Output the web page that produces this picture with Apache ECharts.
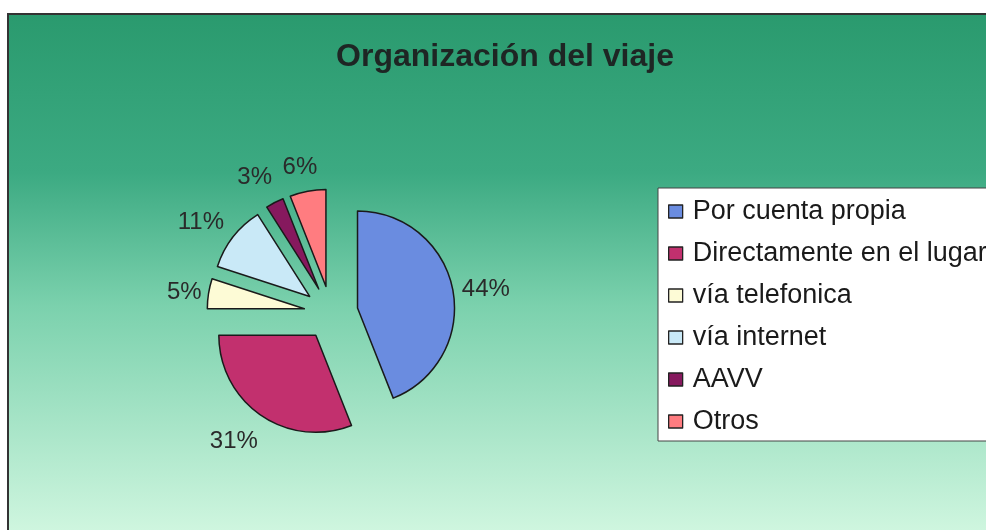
<!DOCTYPE html>
<html>
<head>
<meta charset="utf-8">
<script src="https://cdn.jsdelivr.net/npm/echarts@6/dist/echarts.min.js"></script>
<style>
  html, body { margin: 0; padding: 0; background: #ffffff; }
  #chart { width: 986px; height: 530px; }
</style>
</head>
<body>
<div id="chart"></div>
<script>
// slices, clockwise from 12 o'clock
var categories = ['Por cuenta propia', 'Directamente en el lugar', 'vía telefonica', 'vía internet', 'AAVV', 'Otros'];
var shares = [44, 31, 5, 11, 3, 6];
var sliceColors = ['#6a8ce0', '#c2306e', '#fdfbd6', '#c9e9f7', '#86195e', '#ff7c80'];
// label placement (label lines are hidden): radial gap, then horizontal nudge
var labelGaps = [0, 31, 11, 24, 28, 24];
var labelNudges = [4, -19, -9, -15, -15, -19];

drawChart();

function drawChart() {
    var myChart = echarts.init(document.getElementById('chart'));

    var pieData = categories.map(function (name, i) {
        return {
            name: name,
            value: shares[i],
            selected: true,
            itemStyle: { color: sliceColors[i] },
            labelLine: { length: labelGaps[i], length2: labelNudges[i] }
        };
    });

    var option = {
        animation: false,
        graphic: [{
            type: 'rect',
            z: -10,
            shape: { x: 8, y: 14, width: 1000, height: 530 },
            style: {
                fill: new echarts.graphic.LinearGradient(0, 0, 0, 1, [
                    { offset: 0, color: '#2a9a6e' },
                    { offset: 0.3, color: '#3caa82' },
                    { offset: 0.55, color: '#7bd1ad' },
                    { offset: 1, color: '#d4f8e2' }
                ]),
                stroke: '#333333',
                lineWidth: 2
            }
        }],
        title: {
            text: 'Organización del viaje',
            left: 500,
            textAlign: 'center',
            top: 36,
            textStyle: {
                fontFamily: 'Liberation Sans, Arial, sans-serif',
                fontSize: 32,
                fontWeight: 'bold',
                color: '#1e2624'
            }
        },
        legend: {
            orient: 'vertical',
            left: 658,
            top: 188,
            padding: [10, 30, 6, 10],
            backgroundColor: '#ffffff',
            borderColor: '#444444',
            borderWidth: 1,
            itemWidth: 14,
            itemHeight: 13,
            itemGap: 15,
            selectedMode: false,
            icon: 'rect',
            itemStyle: { borderColor: '#222222', borderWidth: 1.3 },
            textStyle: {
                fontFamily: 'Liberation Sans, Arial, sans-serif',
                fontSize: 27,
                color: '#1a1a1a',
                padding: [0, 0, 0, 5]
            },
            data: categories
        },
        series: [{
            type: 'pie',
            center: [331, 313],
            radius: [0, 97],
            startAngle: 90,
            clockwise: true,
            selectedMode: 'multiple',
            selectedOffset: 27,
            avoidLabelOverlap: false,
            emphasis: { disabled: true },
            itemStyle: { borderColor: '#1a1a1a', borderWidth: 1.5 },
            label: {
                show: true,
                position: 'outside',
                formatter: '{c}%',
                fontFamily: 'Liberation Sans, Arial, sans-serif',
                fontSize: 24,
                color: '#2a2a2a'
            },
            labelLine: { show: false },
            data: pieData
        }]
    };

    myChart.setOption(option);
}
</script>
</body>
</html>
